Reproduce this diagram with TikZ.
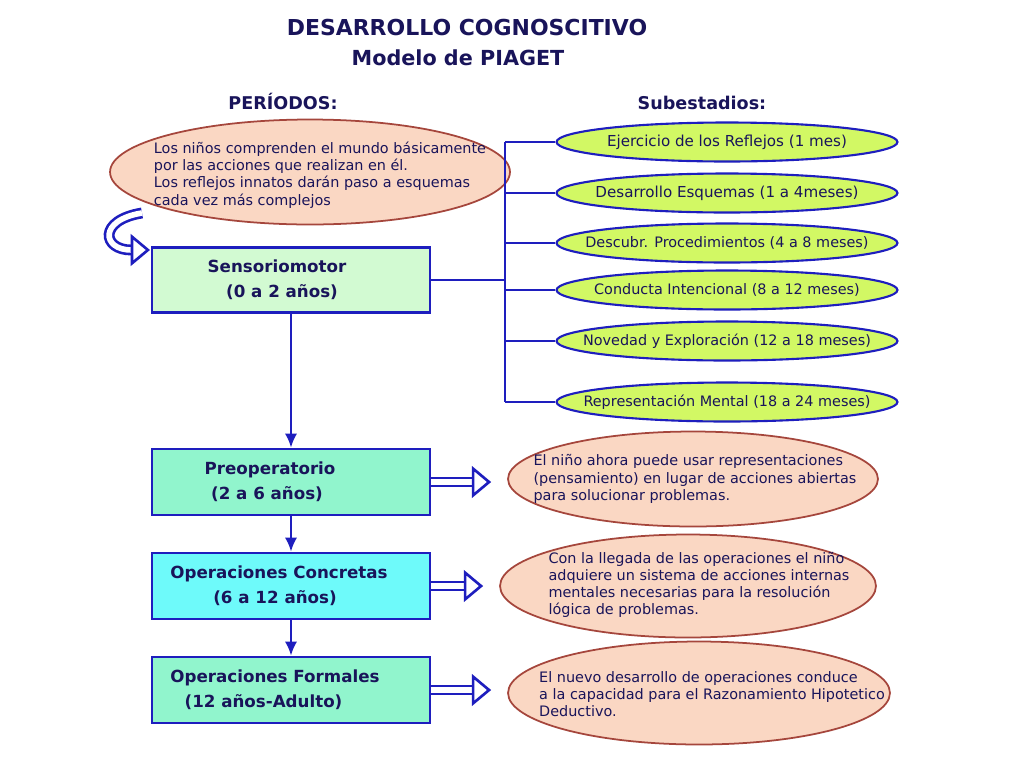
\documentclass[tikz,border=0pt]{standalone}
\usepackage{fontspec}
\setmainfont{DejaVu Sans}
\usepackage{xcolor}
\definecolor{Col1}{RGB}{30,30,190}
\definecolor{Col2}{RGB}{165,70,60}
\definecolor{Col3}{RGB}{250,215,195}
\definecolor{Col4}{RGB}{210,250,210}
\definecolor{Col5}{RGB}{145,245,205}
\definecolor{Col6}{RGB}{110,250,250}
\definecolor{Col7}{RGB}{210,248,100}
\definecolor{ColText}{RGB}{25,20,90}
\usepackage{tikz}
\usetikzlibrary{shapes.geometric}
\usetikzlibrary{arrows.meta}
\tikzstyle{Title}=[text=ColText,font=\fontsize{12.5}{15}\selectfont\bfseries]
\tikzstyle{Head}=[text=ColText,font=\fontsize{10}{12}\selectfont\bfseries]
\tikzstyle{Period}=[rectangle,draw=Col1,line width=1.5pt,minimum width=5.56cm,
minimum height=1.32cm,text=ColText,align=center,
font=\fontsize{9.5}{14}\selectfont\bfseries]
\tikzstyle{Sub}=[ellipse,draw=Col1,line width=1.2pt,fill=Col7,
minimum width=6.82cm,minimum height=0.78cm]
\tikzstyle{SubText}=[text=ColText,font=\fontsize{8.2}{10}\selectfont]
\tikzstyle{Note}=[ellipse,draw=Col2,line width=1pt,fill=Col3]
\tikzstyle{NoteText}=[align=left,text=ColText,font=\fontsize{8.2}{9.8}\selectfont]
\tikzstyle{Edge}=[draw=Col1,line width=0.8pt]
\tikzstyle{Down}=[draw=Col1,line width=1.4pt,-{Latex[length=8pt,width=7pt]}]
\tikzstyle{Hollow}=[draw=Col1,line width=1.5pt,double=white,double distance=3.2pt,
-{Triangle[fill=white,length=11pt,width=18pt,line width=1.5pt]},shorten >=0.32cm]
\begin{document}
\begin{tikzpicture}[x=0.02cm,y=-0.02cm]
            \useasboundingbox[fill=white](0,0)rectangle(1024,768);
            \node[Title](t1)at(467,28){DESARROLLO COGNOSCITIVO};
            \node[Title,font=\fontsize{11.8}{15}\selectfont\bfseries](t2)at(458,58){Modelo de PIAGET};
            \node[Head](h1)at(283,101){PERÍODOS:};
            \node[Head](h2)at(702,103){Subestadios:};
            % periodos
            \node[Note,minimum width=8cm,minimum height=2.1cm](n0)at(310,172){};
            \node[NoteText](n0t)at(320,175){Los niños comprenden el mundo básicamente\\
                por las acciones que realizan en él.\\
                Los reflejos innatos darán paso a esquemas\\
                cada vez más complejos};
            \node[Period,fill=Col4,minimum height=1.3cm](S)at(291,280){
                Sensoriomotor\hspace*{.56cm}\\(0 a 2 años)\hspace*{.36cm}};
            \node[Period,fill=Col5](P)at(291,482){
                Preoperatorio\hspace*{.84cm}\\(2 a 6 años)\hspace*{.96cm}};
            \node[Period,fill=Col6](C)at(291,586){
                Operaciones Concretas\hspace*{.48cm}\\(6 a 12 años)\hspace*{.64cm}};
            \node[Period,fill=Col5](F)at(291,690){
                Operaciones Formales\hspace*{.64cm}\\(12 años-Adulto)\hspace*{1.1cm}};
            \draw[Down](S)--(P);
            \draw[Down](P)--(C);
            \draw[Down](C)--(F);
            \coordinate(a0)at(142,213);
            \coordinate(a1)at(150,250);
            \draw[Hollow,shorten >=0pt](a0).. controls (98,220) and (102,250) ..(a1);
            % subestadios
            \node[Sub](e1)at(727,142){};
            \node[Sub](e2)at(727,193){};
            \node[Sub](e3)at(727,243){};
            \node[Sub](e4)at(727,290){};
            \node[Sub](e5)at(727,341){};
            \node[Sub](e6)at(727,402){};
            \node[SubText,font=\fontsize{8.6}{10}\selectfont]at(e1){Ejercicio de los Reflejos (1 mes)};
            \node[SubText,font=\fontsize{8.6}{10}\selectfont]at(e2){Desarrollo Esquemas (1 a 4meses)};
            \node[SubText]at(e3){Descubr. Procedimientos (4 a 8 meses)};
            \node[SubText]at(e4){Conducta Intencional (8 a 12 meses)};
            \node[SubText]at(e5){Novedad y Exploración (12 a 18 meses)};
            \node[SubText]at(e6){Representación Mental (18 a 24 meses)};
            \coordinate(j)at(505,280);
            \draw[Edge](S.east)--(j);
            \draw[Edge](j|-e1.west)--(j|-e6.west);
            \foreach \e in {e1,e2,e3,e4,e5,e6}
                \draw[Edge](j|-\e.west)--(\e.west);
            % descripciones
            \node[Note,minimum width=7.4cm,minimum height=1.9cm](r1)at(693,479){};
            \node[Note,minimum width=7.52cm,minimum height=2.06cm](r2)at(688,586){};
            \node[Note,minimum width=7.64cm,minimum height=2.06cm](r3)at(699,693){};
            \node[NoteText](r1t)at(695,479){El niño ahora puede usar representaciones\\
                (pensamiento) en lugar de acciones abiertas\\
                para solucionar problemas.};
            \node[NoteText](r2t)at(699,585){Con la llegada de las operaciones el niño\\
                adquiere un sistema de acciones internas\\
                mentales necesarias para la resolución\\
                lógica de problemas.};
            \node[NoteText](r3t)at(712,694){El nuevo desarrollo de operaciones conduce\\
                a la capacidad para el Razonamiento Hipotetico\\
                Deductivo.};
            \draw[Hollow](P.east)--(P.east-|r1.west);
            \draw[Hollow](C.east)--(C.east-|r2.west);
            \draw[Hollow](F.east)--(F.east-|r3.west);
        \end{tikzpicture}
\end{document}
